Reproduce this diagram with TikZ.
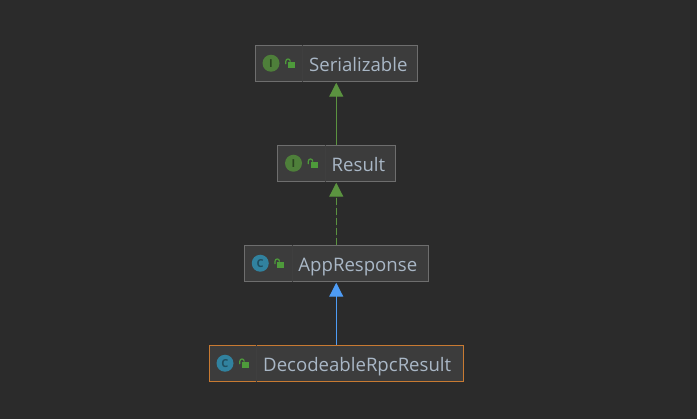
\documentclass[tikz,border=0pt]{standalone}
\usepackage{fontspec}
\setmainfont{Open Sans}
\usetikzlibrary{arrows.meta}

\definecolor{bgcol}{HTML}{2B2B2B}
\definecolor{boxcol}{HTML}{3C3C3C}
\definecolor{framecol}{HTML}{6E6E6E}
\definecolor{sepcol}{HTML}{3F3F3F}
\definecolor{txtcol}{HTML}{A9B7C6}
\definecolor{igreen}{HTML}{4E7F3A}
\definecolor{idark}{HTML}{2A4420}
\definecolor{cblue}{HTML}{31829F}
\definecolor{cdark}{HTML}{1F4E60}
\definecolor{lockcol}{HTML}{4E9A3B}
\definecolor{arrowgreen}{HTML}{5B9340}
\definecolor{arrowblue}{HTML}{4E9CF5}
\definecolor{selcol}{HTML}{C87A32}

\tikzset{
    umlbox/.style={draw=framecol, fill=boxcol, line width=1pt, minimum height=36pt, inner sep=0pt},
    umlname/.style={anchor=base west, inner sep=0pt, text=txtcol, font=\fontsize{18.6}{20}\selectfont},
    umlicon/.style={circle, minimum size=17pt, inner sep=0pt, font=\fontsize{11}{11}\selectfont\bfseries},
    extends/.style={-{Triangle[length=14pt,width=14pt]}, line width=1.2pt, shorten >=1pt},
}

% box, then its separator, type icon, lock and name
\newcommand{\umlclass}[8][framecol]{
    \node[umlbox, draw=#1, minimum width=#4pt] (#2) at (336.25,#3) {};
    \draw[sepcol] ([xshift=48pt]#2.north west) -- ([xshift=48pt]#2.south west);
    \node[umlicon, fill=#6, text=#7] (#2icon) at ([xshift=16.5pt]#2.west) {#5};
    \draw[lockcol, line width=1.2pt, line cap=round] ([xshift=14.8pt,yshift=-0.5pt]#2icon.center)
        -- ([xshift=14.8pt,yshift=2pt]#2icon.center)
        .. controls ([xshift=14.8pt,yshift=5pt]#2icon.center) and ([xshift=19.2pt,yshift=5pt]#2icon.center)
        .. ([xshift=19.2pt,yshift=2pt]#2icon.center);
    \fill[lockcol] ([xshift=17pt,yshift=-4.5pt]#2icon.center) rectangle ([xshift=24pt,yshift=1.5pt]#2icon.center);
    \node[umlname] (#2name) at ([xshift=54.5pt,yshift=-7.8pt]#2.west) {#8};
}

\begin{document}
\begin{tikzpicture}[x=1pt,y=-1pt]
    \useasboundingbox[fill=bgcol] (0,0) rectangle (697,419);

    % classes
    \umlclass{serializable}{63.25}{162.5}{I}{igreen}{idark}{Serializable}
    \umlclass{result}{163.25}{117.5}{I}{igreen}{idark}{Result}
    \umlclass{appresponse}{263.25}{184}{C}{cblue}{cdark}{AppResponse}
    \umlclass[selcol]{decodeable}{363.25}{254.5}{C}{cblue}{cdark}{DecodeableRpcResult}

    % arrows
    \draw[extends, draw=arrowgreen, fill=arrowgreen] (result.north) -- (serializable.south);
    \draw[extends, draw=arrowgreen, fill=arrowgreen, dash pattern=on 6.5pt off 3.5pt] (appresponse.north) -- (result.south);
    \draw[extends, draw=arrowblue, fill=arrowblue] (decodeable.north) -- (appresponse.south);

\end{tikzpicture}
\end{document}
